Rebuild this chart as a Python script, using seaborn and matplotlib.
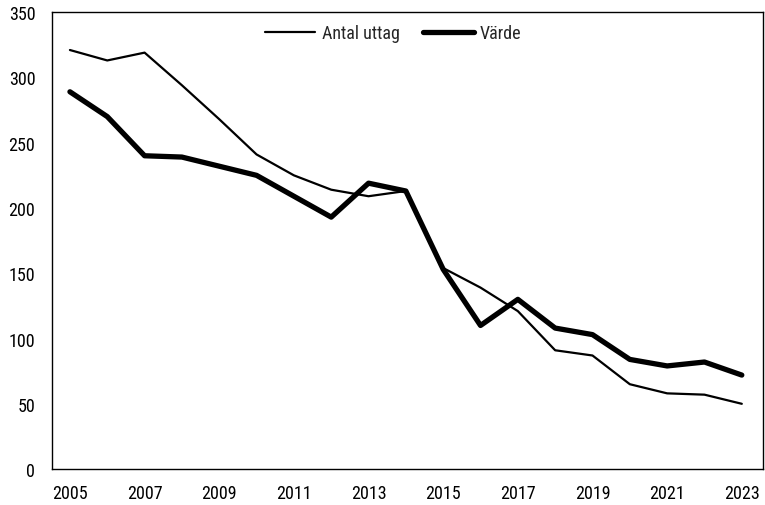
import matplotlib
matplotlib.use("Agg")
import matplotlib.pyplot as plt
import seaborn as sns
import pandas as pd

years = list(range(2005, 2024))
antal_uttag = [321, 313, 319, 294, 268, 241, 225, 214, 209, 213, 154, 139, 121, 91, 87, 65, 58, 57, 50]
varde = [289, 270, 240, 239, 232, 225, 209, 193, 219, 213, 153, 110, 130, 108, 103, 84, 79, 82, 72]
series_names = ["Antal uttag", "Värde"]

sns.set_style("white")
plt.rcParams["font.family"] = ["Roboto Condensed", "DejaVu Sans"]

df = pd.DataFrame({"year": years * 2,
                   "value": antal_uttag + varde,
                   "serie": [series_names[0]] * len(years) + [series_names[1]] * len(years)})

fig, ax = plt.subplots(figsize=(7.65, 5.06), dpi=100)
sns.lineplot(data=df, x="year", y="value", hue="serie", size="serie",
             sizes={"Antal uttag": 1.6, "Värde": 3.8},
             palette={"Antal uttag": "black", "Värde": "black"}, ax=ax)

ax.set_xlim(2004.52, 2023.56)
ax.set_ylim(0, 350)
ax.set_xticks(range(2005, 2024, 2))
ax.set_yticks(range(0, 351, 50))
ax.set_xlabel("")
ax.set_ylabel("")
ax.tick_params(axis="y", direction="in", length=4.5, labelsize=13, pad=12, labelcolor="black")
ax.tick_params(axis="x", length=0, labelsize=13, pad=11, labelcolor="black")
for s in ax.spines.values():
    s.set_color("black")
    s.set_linewidth(1.0)

# legend sits a little left of centre in the original
ax.legend(loc="upper center", ncol=2, frameon=False, fontsize=13,
          handlelength=2.8, bbox_to_anchor=(0.48, 1.01), columnspacing=1.3, handletextpad=0.35)

fig.subplots_adjust(left=0.068, right=0.997, top=0.974, bottom=0.071)
fig.savefig("out.png", dpi=100)
